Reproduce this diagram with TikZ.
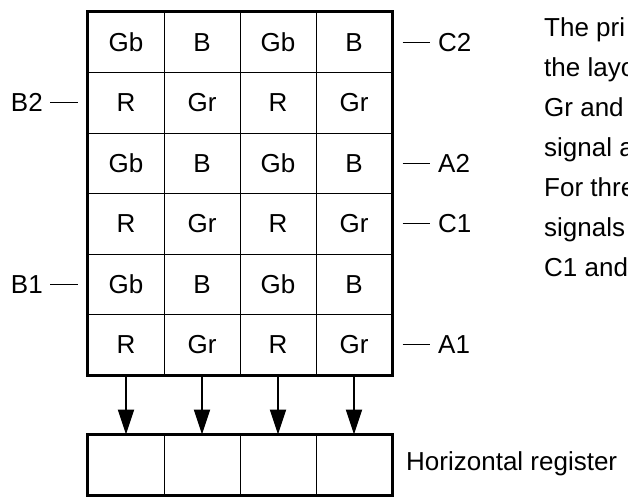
\documentclass[tikz,border=0pt]{standalone}
\usepackage{fontspec}
\setmainfont{Liberation Sans}
\usetikzlibrary{arrows.meta}
\begin{document}
\begin{tikzpicture}[x=1pt,y=-1pt,
  txt/.style={font=\fontsize{26}{30}\selectfont, inner sep=0pt},
  cell/.style={draw, line width=1pt, minimum width=76pt, minimum height=60.5pt, inner sep=0pt, anchor=center, font=\fontsize{26}{30}\selectfont},
  border/.style={draw, line width=2.5pt},
  tick/.style={line width=1pt},
  flow/.style={line width=2pt, -{Triangle[width=16pt,length=25pt]}}]
\clip (0,0) rectangle (628,496);
\fill[white] (0,0) rectangle (628,496);
% pixel array
\foreach \i/\a/\b/\c/\d in {1/Gb/B/Gb/B, 2/R/Gr/R/Gr, 3/Gb/B/Gb/B, 4/R/Gr/R/Gr, 5/Gb/B/Gb/B, 6/R/Gr/R/Gr}{
  \node[cell] (c-\i-1) at (126, {42.25+60.5*(\i-1)}) {\a};
  \node[cell] (c-\i-2) at (202, {42.25+60.5*(\i-1)}) {\b};
  \node[cell] (c-\i-3) at (278, {42.25+60.5*(\i-1)}) {\c};
  \node[cell] (c-\i-4) at (354, {42.25+60.5*(\i-1)}) {\d};
}
\draw[border] (c-1-1.north west) rectangle (c-6-4.south east);
% horizontal register
\foreach \j/\x in {1/126, 2/202, 3/278, 4/354}{
  \node[cell, minimum height=60pt] (r-\j) at (\x, 465) {};
}
\draw[border] (r-1.north west) rectangle (r-4.south east);
\foreach \j in {1,2,3,4}{
  \draw[flow] (c-6-\j.south) -- (r-\j.north);
}
% right labels
\node[txt, anchor=west] (C2) at (438, 42.25) {C2};
\node[txt, anchor=west] (A2) at (438, 163.25) {A2};
\node[txt, anchor=west] (C1) at (438, 223.75) {C1};
\node[txt, anchor=west] (A1) at (438, 344.75) {A1};
\draw[tick] ([xshift=10pt]c-1-4.east) -- ([xshift=-8pt]C2.west);
\draw[tick] ([xshift=10pt]c-3-4.east) -- ([xshift=-8pt]A2.west);
\draw[tick] ([xshift=10pt]c-4-4.east) -- ([xshift=-8pt]C1.west);
\draw[tick] ([xshift=10pt]c-6-4.east) -- ([xshift=-8pt]A1.west);
% left labels
\node[txt, anchor=east] (B2) at (43, 102.75) {B2};
\node[txt, anchor=east] (B1) at (43, 284.25) {B1};
\draw[tick] ([xshift=7pt]B2.east) -- ([xshift=-10pt]c-2-1.west);
\draw[tick] ([xshift=7pt]B1.east) -- ([xshift=-10pt]c-5-1.west);
% register label
\node[txt, anchor=base west] (hr) at (406, 470) {Horizontal register};
% text on the right
\node[txt, anchor=base west] (t1) at (544, 36) {The pri};
\node[txt, anchor=base west] (t2) at (544, 76) {the layo};
\node[txt, anchor=base west] (t3) at (544, 116) {Gr and};
\node[txt, anchor=base west] (t4) at (544, 156) {signal a};
\node[txt, anchor=base west] (t5) at (544, 196) {For thre};
\node[txt, anchor=base west] (t6) at (544, 236) {signals};
\node[txt, anchor=base west] (t7) at (544, 276) {C1 and};
\end{tikzpicture}
\end{document}
